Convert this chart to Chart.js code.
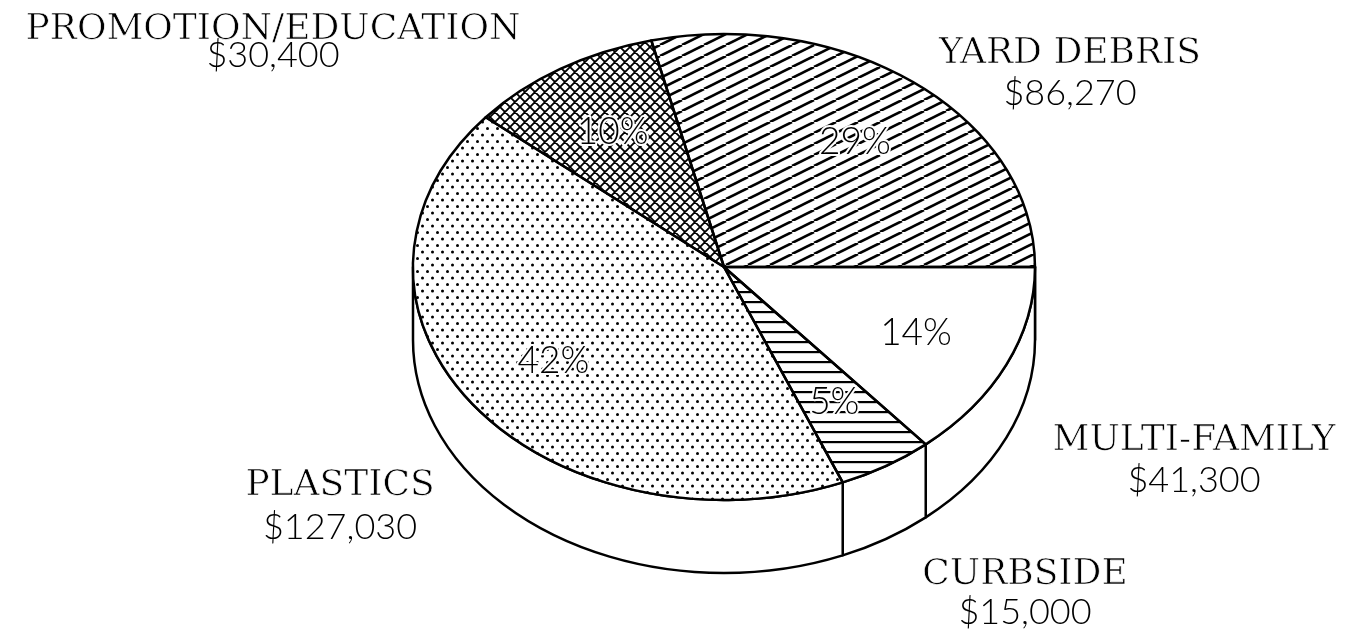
<!DOCTYPE html>
<html lang="en">
<head>
<meta charset="UTF-8">
<title>Recycling program budget</title>
<script src="https://cdn.jsdelivr.net/npm/chart.js"></script>
<style>
  html, body { margin: 0; padding: 0; background: #fff; }
</style>
</head>
<body>
<canvas id="pieChart" width="1348" height="635"></canvas>
<script>
  // data, clockwise from the top
  const categories = ['YARD DEBRIS', 'MULTI-FAMILY', 'CURBSIDE', 'PLASTICS', 'PROMOTION/EDUCATION'];
  const amounts = [86270, 41300, 15000, 127030, 30400];
  const patterns = ['diagonal', 'none', 'horizontal', 'dots', 'cross'];

  const total = amounts.reduce((s, v) => s + v, 0);
  const percentLabels = amounts.map(v => Math.round(v / total * 100) + '%');
  const moneyLabels = amounts.map(v => '$' + v.toLocaleString('en-US'));

  // layout of the tilted pie
  const W = 1348, H = 635;
  const CX = 724, CY = 267, RX = 311, RY = 233, DEPTH = 73;
  const K = RY / RX;

  // name / amount label spots: [centre x, name baseline, amount baseline]
  const labelSpots = [
    [1070, 63, 105],
    [1194, 450, 492],
    [1025, 584, 624],
    [340, 495, 539],
    [273, 39, 67]
  ];

  const NAME_FONT = '36px "DejaVu Serif"';
  const NUM_FONT = '300 36px Lato, "Liberation Sans"';
  const PCT_FONT = '300 37px Lato, "Liberation Sans"';
  const LINE = 2.5;

  function squash(ctx, x, y) {
    ctx.translate(x, y);
    ctx.scale(1, K);
    ctx.translate(-x, -y);
  }

  // black text whose strokes are thinned a little with a white edge
  function thinText(ctx, str, x, y, thin) {
    ctx.fillStyle = '#000';
    ctx.fillText(str, x, y);
    ctx.lineWidth = thin;
    ctx.strokeStyle = '#fff';
    ctx.strokeText(str, x, y);
  }

  function makePattern(kind) {
    if (kind === 'none') return '#ffffff';
    const sizes = { diagonal: [22, 11], horizontal: [10, 10], dots: [10, 13], cross: [10, 10] };
    const [w, h] = sizes[kind];
    const c = document.createElement('canvas');
    c.width = w; c.height = h;
    const g = c.getContext('2d');
    g.fillStyle = '#fff';
    g.fillRect(0, 0, w, h);
    g.strokeStyle = '#000';
    g.fillStyle = '#000';
    if (kind === 'diagonal') {
      g.lineWidth = 2.6;
      g.beginPath();
      for (const dx of [-w, 0, w]) {
        g.moveTo(dx, h);
        g.lineTo(dx + w, 0);
      }
      g.stroke();
    } else if (kind === 'horizontal') {
      g.fillRect(0, 4, w, 2.2);
    } else if (kind === 'dots') {
      for (const [x, y] of [[2.5, 3], [7.5, 9.5]]) {
        g.beginPath();
        g.arc(x, y, 1.5, 0, Math.PI * 2);
        g.fill();
      }
    } else if (kind === 'cross') {
      g.lineWidth = 1.8;
      g.beginPath();
      for (const dx of [-w, 0, w]) {
        g.moveTo(dx, h); g.lineTo(dx + w, 0);
        g.moveTo(dx, 0); g.lineTo(dx + w, h);
      }
      g.stroke();
    }
    const pat = g.createPattern(c, 'repeat');
    // undo the vertical squash so the hatching keeps its own spacing
    pat.setTransform(new DOMMatrix([1, 0, 0, 1 / K, 0, 0]));
    return pat;
  }

  const pie3d = {
    id: 'pie3d',
    beforeDatasetsDraw(chart) {
      const ctx = chart.ctx;
      const arcs = chart.getDatasetMeta(0).data;
      // side walls of the front half
      arcs.forEach(a => {
        const p = a.getProps(['x', 'y', 'startAngle', 'endAngle', 'outerRadius'], true);
        const a0 = Math.max(p.startAngle, 0);
        const a1 = Math.min(p.endAngle, Math.PI);
        if (a1 <= a0) return;
        ctx.save();
        squash(ctx, p.x, p.y);
        ctx.beginPath();
        ctx.arc(p.x, p.y, p.outerRadius, a0, a1);
        ctx.arc(p.x, p.y + DEPTH / K, p.outerRadius, a1, a0, true);
        ctx.closePath();
        ctx.restore();
        ctx.fillStyle = '#fff';
        ctx.fill();
        ctx.lineWidth = LINE;
        ctx.lineJoin = 'round';
        ctx.strokeStyle = '#000';
        ctx.stroke();
      });
      ctx.save();
      squash(ctx, arcs[0].x, arcs[0].y);
    },
    afterDatasetsDraw(chart) {
      const ctx = chart.ctx;
      ctx.restore();
      const arcs = chart.getDatasetMeta(0).data;
      // slice outlines on the top face
      arcs.forEach(a => {
        const p = a.getProps(['x', 'y', 'startAngle', 'endAngle', 'outerRadius'], true);
        ctx.save();
        squash(ctx, p.x, p.y);
        ctx.beginPath();
        ctx.moveTo(p.x, p.y);
        ctx.arc(p.x, p.y, p.outerRadius, p.startAngle, p.endAngle);
        ctx.closePath();
        ctx.restore();
        ctx.lineWidth = LINE;
        ctx.lineJoin = 'round';
        ctx.strokeStyle = '#000';
        ctx.stroke();
      });
    },
    afterDraw(chart) {
      const ctx = chart.ctx;
      const arcs = chart.getDatasetMeta(0).data;
      ctx.save();
      ctx.textAlign = 'center';
      // percentages inside the slices
      ctx.textBaseline = 'middle';
      ctx.font = PCT_FONT;
      arcs.forEach((a, i) => {
        const p = a.getProps(['x', 'y', 'startAngle', 'endAngle', 'outerRadius'], true);
        const mid = (p.startAngle + p.endAngle) / 2;
        const x = p.x + 0.68 * p.outerRadius * Math.cos(mid);
        const y = p.y + 0.68 * p.outerRadius * K * Math.sin(mid);
        ctx.lineWidth = 4;
        ctx.strokeStyle = '#fff';
        ctx.strokeText(percentLabels[i], x, y);
        ctx.fillStyle = '#000';
        ctx.fillText(percentLabels[i], x, y);
      });
      // category names and amounts around the pie
      ctx.textBaseline = 'alphabetic';
      categories.forEach((name, i) => {
        const [x, y1, y2] = labelSpots[i];
        ctx.font = NAME_FONT;
        thinText(ctx, name, x, y1, 0.7);
        ctx.font = NUM_FONT;
        ctx.fillStyle = '#000';
        ctx.fillText(moneyLabels[i], x, y2);
      });
      ctx.restore();
    }
  };

  new Chart(document.getElementById('pieChart'), {
    type: 'pie',
    data: {
      labels: categories,
      datasets: [{
        data: amounts,
        backgroundColor: patterns.map(makePattern),
        borderWidth: 0,
        clip: false
      }]
    },
    options: {
      responsive: false,
      animation: false,
      events: [],
      rotation: 90 - 360 * amounts[0] / total,
      radius: RX,
      layout: { padding: { left: 2 * CX - W, right: 0, top: 0, bottom: H - 2 * CY } },
      plugins: { legend: { display: false }, tooltip: { enabled: false } }
    },
    plugins: [pie3d]
  });
</script>
</body>
</html>
